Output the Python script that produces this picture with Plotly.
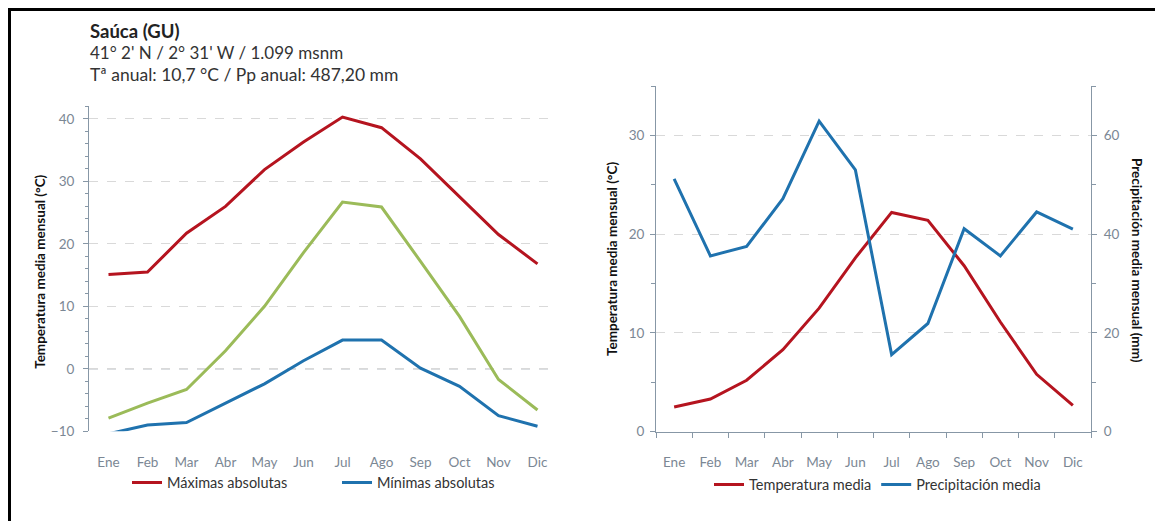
import plotly.graph_objects as go

months = ["Ene", "Feb", "Mar", "Abr", "May", "Jun", "Jul", "Ago", "Sep", "Oct", "Nov", "Dic"]

max_abs = [15.1, 15.5, 21.7, 26.0, 31.9, 36.3, 40.3, 38.6, 33.6, 27.6, 21.5, 16.8]
media_max = [-7.9, -5.5, -3.3, 2.9, 10.0, 18.6, 26.7, 25.9, 17.2, 8.4, -1.7, -6.6]
min_abs = [-10.4, -9.0, -8.6, -5.5, -2.4, 1.3, 4.6, 4.6, 0.1, -2.8, -7.5, -9.2]

temp_media = [2.5, 3.3, 5.2, 8.3, 12.5, 17.6, 22.2, 21.4, 16.8, 11.1, 5.8, 2.65]
precip_media = [51.2, 35.6, 37.5, 47.2, 62.9, 53.0, 15.6, 21.9, 41.1, 35.6, 44.5, 41.0]

title_lines = ["<b>Saúca (GU)</b>", "41° 2' N / 2° 31' W / 1.099 msnm",
               "Tª anual: 10,7 °C / Pp anual: 487,20 mm"]

RED = "#B5141F"
GREEN = "#9BBB59"
BLUE = "#1F72AE"
AXC = "#8797A6"
TICKC = "#7B8794"
GRID = "#D9D9D9"
FONT = "Lato"

OFF = 8  # page body margin
W, H = 1163 - OFF, 521 - OFF
def px(x):
    return (x - OFF) / W
def py(y):
    return 1 - (y - OFF) / H

fig = go.Figure()

fig.add_trace(go.Scatter(x=months, y=max_abs, mode="lines", name="Máximas absolutas",
                         line=dict(color=RED, width=3), xaxis="x", yaxis="y", legend="legend"))
fig.add_trace(go.Scatter(x=months, y=media_max, mode="lines", name="Media máximas",
                         line=dict(color=GREEN, width=3), xaxis="x", yaxis="y", showlegend=False))
fig.add_trace(go.Scatter(x=months, y=min_abs, mode="lines", name="Mínimas absolutas",
                         line=dict(color=BLUE, width=3), xaxis="x", yaxis="y", legend="legend"))

fig.add_trace(go.Scatter(x=months, y=temp_media, mode="lines", name="Temperatura media",
                         line=dict(color=RED, width=3), xaxis="x2", yaxis="y2", legend="legend2"))
fig.add_trace(go.Scatter(x=months, y=precip_media, mode="lines", name="Precipitación media",
                         line=dict(color=BLUE, width=3), xaxis="x2", yaxis="y3", legend="legend2"))

tickfont = dict(family=FONT, size=13.5, color=TICKC)

fig.update_layout(
    width=W, height=H,
    margin=dict(l=0, r=0, t=0, b=0),
    paper_bgcolor="white", plot_bgcolor="white",
    font=dict(family=FONT, color="#333333"),
    xaxis=dict(domain=[px(89), px(557)], anchor="y", type="category", range=[-0.5, 11.5],
               showline=False, showgrid=False, zeroline=False, ticks="",
               tickfont=tickfont, ticklabelstandoff=21),
    yaxis=dict(domain=[py(438), py(108)], anchor="x", range=[-10, 42],
               tickvals=[-10, 0, 10, 20, 30, 40],
               showline=True, linecolor=AXC, linewidth=1,
               ticks="outside", ticklen=5, tickcolor=AXC,
               minor=dict(dtick=2, tick0=0, ticks="outside", ticklen=3, tickcolor=AXC, showgrid=False),
               showgrid=True, gridcolor=GRID, griddash="dash", zeroline=False,
               tickfont=tickfont, ticklabelstandoff=6),
    xaxis2=dict(domain=[px(656), px(1091)], anchor="y2", type="category", range=[-0.5, 11.5],
                showline=True, linecolor=AXC, linewidth=1, showgrid=False, zeroline=False,
                ticks="outside", tickson="boundaries", ticklen=5, tickcolor=AXC,
                tickfont=tickfont, ticklabelstandoff=18),
    yaxis2=dict(domain=[py(438.3), py(87.3)], anchor="x2", range=[0, 35],
                tickvals=[0, 10, 20, 30],
                showline=True, linecolor=AXC, linewidth=1,
                ticks="outside", ticklen=5, tickcolor=AXC,
                minor=dict(dtick=5, tick0=0, ticks="outside", ticklen=4, tickcolor=AXC, showgrid=False),
                showgrid=True, gridcolor=GRID, griddash="dash", zeroline=False,
                tickfont=tickfont, ticklabelstandoff=3),
    yaxis3=dict(overlaying="y2", side="right", anchor="x2", range=[0, 70],
                tickvals=[0, 20, 40, 60],
                showline=True, linecolor=AXC, linewidth=1,
                ticks="outside", ticklen=5, tickcolor=AXC,
                minor=dict(dtick=10, tick0=0, ticks="outside", ticklen=4, tickcolor=AXC, showgrid=False),
                showgrid=False, zeroline=False, tickfont=tickfont, ticklabelstandoff=4),
    legend=dict(orientation="h", x=px(127), xanchor="left", y=py(490), yanchor="middle",
                font=dict(family=FONT, size=14.5, color="#333333"), entrywidth=165,
                itemwidth=30, bgcolor="rgba(0,0,0,0)", traceorder="normal"),
    legend2=dict(orientation="h", x=px(709), xanchor="left", y=py(492), yanchor="middle",
                 font=dict(family=FONT, size=14.5, color="#333333"),
                 itemwidth=30, bgcolor="rgba(0,0,0,0)", traceorder="normal"),
    showlegend=True,
)

# zero line (darker dashed) on left chart
fig.add_shape(type="line", xref="x domain", yref="y", x0=0, x1=1, y0=0, y1=0,
              line=dict(color="#8C96A0", width=1, dash="dash"), layer="below")

# outer frame
fig.add_shape(type="rect", xref="paper", yref="paper", x0=1.5 / W, x1=1.2, y0=-0.2, y1=1 - 1.5 / H,
              line=dict(color="black", width=3), fillcolor="rgba(0,0,0,0)")

anns = []
title_y = [31, 53, 76]
title_sizes = [18.5, 17, 17.5]
for i, (t, yy) in enumerate(zip(title_lines, title_y)):
    anns.append(dict(text=t, xref="paper", yref="paper", x=px(88), y=py(yy), xanchor="left",
                     yanchor="middle", showarrow=False,
                     font=dict(family=FONT, size=title_sizes[i], color="#222222" if i == 0 else "#333333")))

axt = dict(family=FONT, size=13.5, color="#111111")
anns.append(dict(text="<b>Temperatura media mensual (°C)</b>", xref="paper", yref="paper",
                 x=px(40), y=py(276), xanchor="center", yanchor="middle",
                 textangle=-90, showarrow=False, font=axt))
anns.append(dict(text="<b>Temperatura media mensual (°C)</b>", xref="paper", yref="paper",
                 x=px(612), y=py(263), xanchor="center", yanchor="middle",
                 textangle=-90, showarrow=False, font=axt))
anns.append(dict(text="<b>Precipitación media mensual (mm)</b>", xref="paper", yref="paper",
                 x=px(1137), y=py(264), xanchor="center", yanchor="middle",
                 textangle=90, showarrow=False, font=axt))
fig.update_layout(annotations=anns)

fig.write_html("out.html")
